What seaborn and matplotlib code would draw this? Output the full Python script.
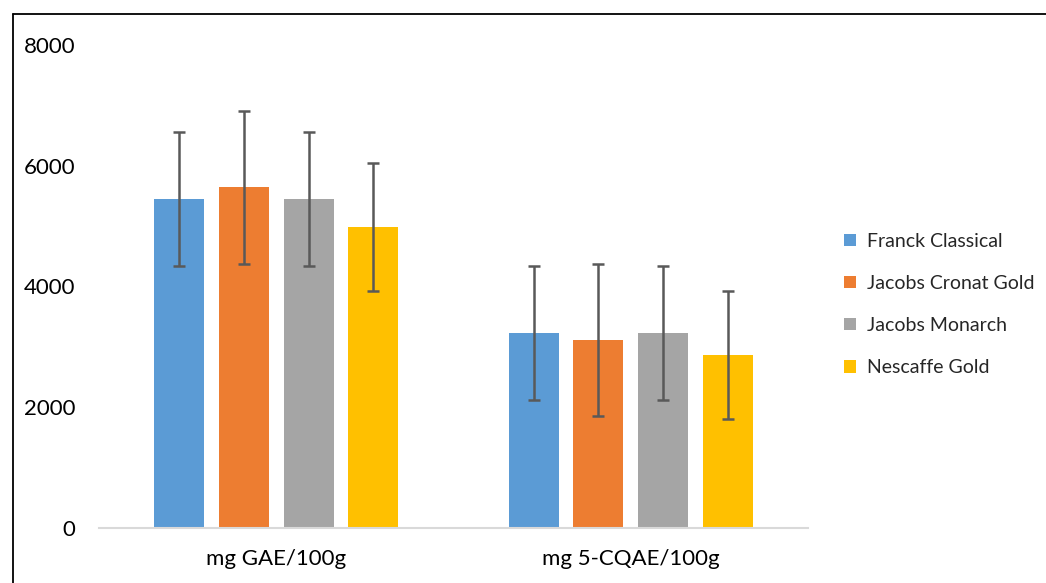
import matplotlib
matplotlib.use("Agg")
import matplotlib.pyplot as plt
import seaborn as sns
import pandas as pd
from matplotlib.lines import Line2D

categories = ["mg GAE/100g", "mg 5-CQAE/100g"]
series = ["Franck Classical", "Jacobs Cronat Gold", "Jacobs Monarch", "Nescaffe Gold"]
franck = [5450, 3230]
cronat = [5640, 3115]
monarch = [5450, 3230]
nescaffe = [4980, 2860]
franck_err = [1110, 1110]
cronat_err = [1265, 1265]
monarch_err = [1110, 1110]
nescaffe_err = [1060, 1060]
yticks = [0, 2000, 4000, 6000, 8000]

colors = ["#5B9BD5", "#ED7D31", "#A5A5A5", "#FFC000"]

vals = [franck, cronat, monarch, nescaffe]
errs = [franck_err, cronat_err, monarch_err, nescaffe_err]
rows = []
for s, v, e in zip(series, vals, errs):
    for c, vv, ee in zip(categories, v, e):
        rows.append({"cat": c, "series": s, "value": vv, "err": ee})
df = pd.DataFrame(rows)

sns.set_style("white")
plt.rcParams["font.family"] = ["Lato", "DejaVu Sans"]

fig = plt.figure(figsize=(10.46, 5.83), dpi=100)
ax = fig.add_axes([99/1046, 55/583, (808-99)/1046, (528-45)/583])

sns.barplot(data=df, x="cat", y="value", hue="series", order=categories,
            hue_order=series, palette=colors, errorbar=None, width=0.728,
            gap=0.225, ax=ax, saturation=1, linewidth=0)

# error bars at bar centres (patches are ordered by series, then category)
order_s = {s: i for i, s in enumerate(series)}
order_c = {c: i for i, c in enumerate(categories)}
df_sorted = df.assign(_s=df["series"].map(order_s), _c=df["cat"].map(order_c)) \
              .sort_values(["_s", "_c"])
for patch, (_, row) in zip(ax.patches[:len(df)], df_sorted.iterrows()):
    xc = patch.get_x() + patch.get_width() / 2
    ax.errorbar(xc, row["value"], yerr=row["err"], color="#595959",
                elinewidth=1.8, capsize=4.5, capthick=1.8, fmt="none", zorder=3)

ax.set_ylim(0, 8000)
ax.set_xlim(-0.5, 1.5)
ax.set_yticks(yticks)
ax.set_yticklabels([str(t) for t in yticks])
ax.set_xlabel("")
ax.set_ylabel("")
ax.tick_params(axis="both", length=0, labelsize=16, colors="black")
ax.tick_params(axis="y", pad=17)
ax.tick_params(axis="x", pad=15)
for side in ["top", "right", "left"]:
    ax.spines[side].set_visible(False)
ax.spines["bottom"].set_color("#D9D9D9")
ax.spines["bottom"].set_linewidth(1.5)

handles, labels = ax.get_legend_handles_labels()
ax.legend(handles, labels, loc="center left", bbox_to_anchor=(844/1046, 1 - 304.5/583),
          bbox_transform=fig.transFigure, frameon=False, fontsize=14,
          handlelength=0.6, handleheight=0.6, handletextpad=0.6,
          labelspacing=1.3, borderaxespad=0, borderpad=0)

# outer chart border (partially cropped)
fig.add_artist(Line2D([13/1046, 13/1046], [0, 1 - 14/583], color="black", lw=1.3,
                      transform=fig.transFigure))
fig.add_artist(Line2D([13/1046, 1], [1 - 14/583, 1 - 14/583], color="black", lw=1.3,
                      transform=fig.transFigure))

fig.savefig("out.png", dpi=100)
